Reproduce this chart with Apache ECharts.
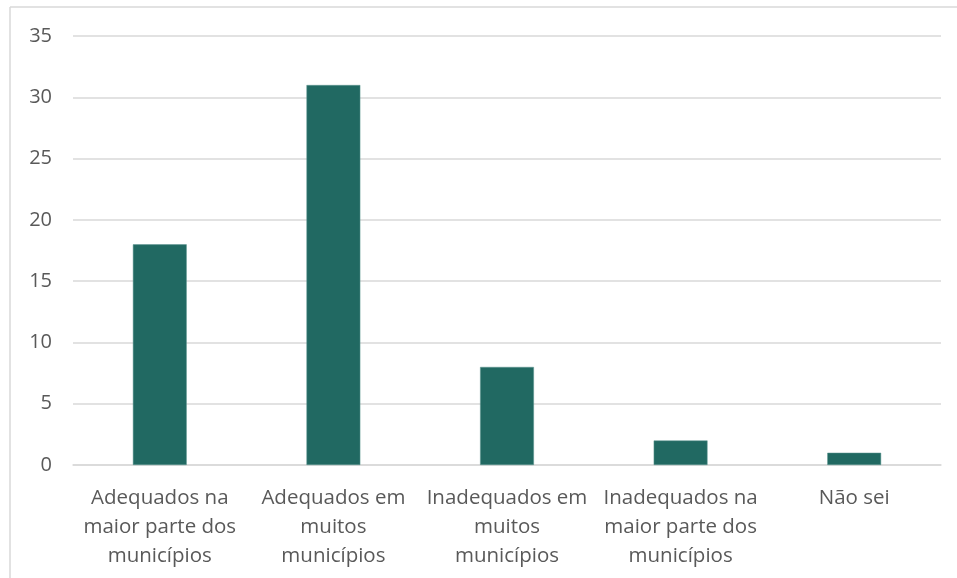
<!DOCTYPE html>
<html>
<head>
<meta charset="utf-8">
<script src="https://cdn.jsdelivr.net/npm/echarts@6/dist/echarts.min.js"></script>
<style>
  html, body { margin: 0; padding: 0; background: #fff; }
  #chart { width: 957px; height: 578px; }
</style>
</head>
<body>
<div id="chart"></div>
<script>
// Answer categories (x axis)
const categories = [
  'Adequados na\nmaior parte dos\nmunicípios',
  'Adequados em\nmuitos\nmunicípios',
  'Inadequados em\nmuitos\nmunicípios',
  'Inadequados na\nmaior parte dos\nmunicípios',
  'Não sei'
];
// Number of responses per category
const responses = [18, 31, 8, 2, 1];
// Value axis ticks
const yMin = 0, yMax = 35, yStep = 5;

const chart = echarts.init(document.getElementById('chart'), null, { renderer: 'canvas' });
const textColor = '#595959';
const lineColor = '#d9d9d9';

chart.setOption({
  animation: false,
  backgroundColor: '#ffffff',
  grid: { left: 73, right: 16, top: 36, bottom: 113 },
  xAxis: {
    type: 'category',
    data: categories,
    axisTick: { show: false },
    axisLine: { lineStyle: { color: lineColor, width: 1.5 } },
    axisLabel: {
      color: textColor,
      fontFamily: 'Open Sans',
      fontSize: 20.5,
      lineHeight: 29,
      margin: 19,
      interval: 0
    }
  },
  yAxis: {
    type: 'value',
    min: yMin, max: yMax, interval: yStep,
    axisLine: { show: false },
    axisTick: { show: false },
    splitLine: { lineStyle: { color: lineColor, width: 1.5 } },
    axisLabel: {
      color: textColor,
      fontFamily: 'Open Sans',
      fontSize: 20,
      margin: 21
    }
  },
  series: [{
    type: 'bar',
    data: responses,
    barWidth: '31%',
    itemStyle: { color: '#216962', borderColor: '#5f9690', borderWidth: 0.5 }
  }],
  graphic: [
    { type: 'line', shape: { x1: 10, y1: 7, x2: 957, y2: 7 }, style: { stroke: lineColor, lineWidth: 1.5 } },
    { type: 'line', shape: { x1: 10, y1: 7, x2: 10, y2: 578 }, style: { stroke: lineColor, lineWidth: 1.5 } }
  ]
});
</script>
</body>
</html>
